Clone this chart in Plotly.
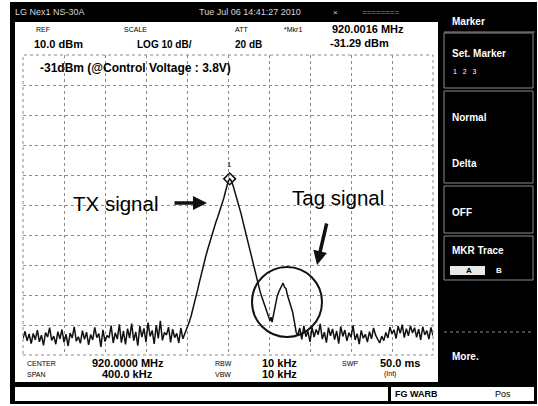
import plotly.graph_objects as go

# sweep: centre 920 MHz, span 400 kHz, values read as kHz offset from centre
center_mhz = 920.0
span_khz = 400

noise_left_start, noise_left_step = -200, 2
noise_left_dbm = [
    -84.5, -82.1, -85.3, -83.0, -86.2, -82.8, -84.9, -81.7, -85.6, -83.4,
    -86.8, -82.5, -84.0, -80.9, -85.1, -83.7, -86.4, -82.2, -84.6, -81.5,
    -85.8, -83.1, -87.0, -82.7, -84.3, -80.6, -85.4, -83.9, -86.1, -81.9,
    -84.8, -82.4, -86.6, -83.2, -85.0, -80.8, -84.2, -82.9, -87.3, -81.6,
    -85.5, -83.6, -84.1, -80.2, -86.0, -82.6, -84.7, -79.8, -85.9, -82.0,
    -86.5, -81.2, -84.4, -79.5, -85.2, -82.3, -86.9, -80.4, -84.0, -81.1,
    -85.7, -79.2, -83.8, -81.8, -86.3, -80.0, -84.5, -78.6, -85.1, -82.5,
    -83.3, -80.7, -85.8, -81.4, -84.2, -82.8, -86.0, -81.0, -84.6, -83.0,
]

signal_khz = [
    -40, -38, -36, -34, -32, -30, -28, -26, -24, -22, -20, -18, -16, -14, -12,
    -10, -8, -6, -4, -2, 0, 1.6, 3, 5, 7, 9, 11, 13, 15, 17, 19, 21, 23, 25,
    27, 29, 31, 33, 35, 37, 39, 40, 41, 42, 43, 44, 46, 48, 50, 52, 53.7, 55,
    56.6, 58, 59.5, 61, 63, 65, 66.5,
]
signal_dbm = [
    -80.8, -79.2, -77.0, -74.5, -71.6, -68.8, -65.9, -62.8, -60.2, -57.5,
    -55.0, -52.6, -50.2, -48.0, -45.9, -44.0, -42.0, -40.0, -37.6, -34.9,
    -32.3, -31.29, -31.8, -33.6, -35.9, -38.2, -40.4, -43.2, -46.1, -48.9,
    -52.0, -55.2, -58.0, -60.8, -63.5, -66.0, -68.4, -70.7, -72.9, -75.0,
    -77.0, -77.6, -78.6, -77.4, -79.0, -77.1, -73.2, -70.4, -68.6, -66.9,
    -66.0, -67.3, -67.9, -70.1, -71.8, -73.2, -75.6, -79.4, -82.4,
]

noise_right_start, noise_right_step = 68, 2
noise_right_dbm = [
    -83.5, -81.0, -84.8, -80.3, -83.9, -82.1, -85.6, -80.8, -84.0, -81.5,
    -83.2, -79.6, -84.7, -82.4, -85.9, -80.9, -83.6, -81.3, -84.9, -82.0,
    -86.2, -80.5, -83.8, -81.7, -85.3, -82.6, -84.1, -80.1, -85.0, -82.9,
    -86.4, -81.8, -84.4, -83.1, -85.7, -82.2, -84.6, -81.0, -83.4, -84.8,
    -86.0, -83.7, -85.2, -82.5, -84.3, -80.7, -83.0, -81.6, -84.5, -80.4,
    -82.8, -79.9, -84.2, -81.2, -83.6, -80.2, -82.7, -80.9, -84.1, -81.4,
    -85.0, -80.6, -83.3, -81.9, -84.7, -80.8, -83.5,
]

marker_mhz = 920.0016
marker_dbm = -31.29

# build the sweep
left_khz = [noise_left_start + i * noise_left_step for i in range(len(noise_left_dbm))]
right_khz = [noise_right_start + i * noise_right_step for i in range(len(noise_right_dbm))]
all_khz = left_khz + signal_khz + right_khz
freq_mhz = [center_mhz + k / 1000 for k in all_khz]
level_dbm = noise_left_dbm + signal_dbm + noise_right_dbm

# pixel helpers (plot area is 23..433 x 55..355)
L, R, T, B = 23, 433, 55, 355


def px(x):
    return (x - L) / (R - L)


def py(y):
    return (B - y) / (B - T)


def khz_of(x):
    return center_mhz + (x - (L + R) / 2) * span_khz / (R - L) / 1000


def dbm_of(y):
    return 10 - (y - T) / 3


fig = go.Figure()
fig.add_trace(go.Scatter(x=freq_mhz, y=level_dbm, mode='lines',
                         line=dict(color='#111', width=1.5), hoverinfo='skip'))
fig.add_trace(go.Scatter(x=[marker_mhz], y=[marker_dbm], mode='markers',
                         marker=dict(symbol='diamond-open', size=9, color='#111',
                                     line=dict(width=1.5)), hoverinfo='skip'))


def rect(x0, y0, x1, y1, fill=None, line='black', width=0, dash=None, layer='below'):
    return dict(type='rect', xref='paper', yref='paper', x0=px(x0), x1=px(x1), y0=py(y1), y1=py(y0),
                fillcolor=fill, line=dict(color=line, width=width, dash=dash), layer=layer)


def hline(x0, x1, y, color='#8c8c8c', width=1, dash=None):
    return dict(type='line', xref='paper', yref='paper', x0=px(x0), x1=px(x1), y0=py(y), y1=py(y),
                line=dict(color=color, width=width, dash=dash), layer='above')


shapes = [
    rect(10, 2, 537, 404, fill='black'),
    rect(15, 22, 438, 382, fill='white'),
    rect(15, 387, 388, 401, fill='white'),
    rect(391, 387, 534, 401, fill='white'),
    rect(L, T, R, B, line='#8a8a8a', width=1, dash='dot', layer='above'),
    hline(444, 535, 32),
    rect(444, 33, 533, 88, line='#8c8c8c', width=1, layer='above'),
    rect(444, 91, 533, 183, line='#8c8c8c', width=1, layer='above'),
    rect(444, 186, 533, 233, line='#8c8c8c', width=1, layer='above'),
    rect(444, 236, 533, 280, line='#8c8c8c', width=1, layer='above'),
    hline(444, 533, 332, dash='dot'),
    rect(450, 266, 485, 275, fill='#e8e8e8', layer='above'),
    # circle round the tag signal
    dict(type='circle', xref='x', yref='y', x0=khz_of(252), x1=khz_of(322),
         y0=dbm_of(337), y1=dbm_of(267), line=dict(color='#111', width=2)),
]

FONT = 'Liberation Sans'


def label(text, x, y, size=9, color='black', bold=False, anchor='left'):
    return dict(text=f'<b>{text}</b>' if bold else text, x=px(x), y=py(y),
                xref='paper', yref='paper', xanchor=anchor, yanchor='middle',
                showarrow=False, font=dict(size=size, color=color, family=FONT))


grey = '#d6d6d6'
annotations = [
    # title bar
    label('LG Nex1 NS-30A', 13, 12, 9, grey),
    label('Tue Jul 06 14:41:27 2010', 197, 12, 9, grey),
    label('×', 331, 12, 8, grey),
    label('========', 360, 12, 8, '#9a9a9a'),
    # header
    label('REF', 43, 29, 7, anchor='center'),
    label('SCALE', 135, 29, 7, anchor='center'),
    label('ATT', 241, 29, 7, anchor='center'),
    label('*Mkr1', 293, 29, 7, anchor='center'),
    label('10.0 dBm', 32, 44, 11, bold=True),
    label('LOG 10 dB/', 135, 44, 10, bold=True),
    label('20 dB', 233, 44, 10, bold=True),
    label('920.0016 MHz', 406, 29, 11, bold=True, anchor='right'),
    label('-31.29 dBm', 391, 43, 11, bold=True, anchor='right'),
    label('-31dBm (@Control Voltage : 3.8V)', 38, 68, 12, bold=True),
    # footer
    label('CENTER', 25, 363, 7),
    label('SPAN', 25, 374, 7),
    label('920.0000 MHz', 90, 363, 11, bold=True),
    label('400.0 kHz', 100, 374, 11, bold=True),
    label('RBW', 213, 363, 7),
    label('VBW', 213, 374, 7),
    label('10 kHz', 260, 363, 11, bold=True),
    label('10 kHz', 260, 374, 11, bold=True),
    label('SWP', 340, 363, 7),
    label('50.0 ms', 378, 363, 11, bold=True),
    label('(Int)', 382, 374, 7),
    label('FG WARB', 393, 394, 9, bold=True),
    label('Pos', 493, 394, 9),
    # soft-key panel
    label('Marker', 450, 21, 10, 'white', bold=True),
    label('Set. Marker', 450, 53, 10, 'white', bold=True),
    label('1   2   3', 451, 71, 7, 'white'),
    label('Normal', 450, 117, 10, 'white', bold=True),
    label('Delta', 450, 163, 10, 'white', bold=True),
    label('OFF', 450, 213, 10, 'white', bold=True),
    label('MKR Trace', 450, 250, 10, 'white', bold=True),
    label('A', 464, 270, 8, 'black', bold=True),
    label('B', 494, 270, 8, 'white', bold=True),
    label('More.', 450, 356, 10, 'white', bold=True),
    # call-outs
    label('TX signal', 71, 203, 20.5),
    label('Tag signal', 290, 197, 20.5),
    dict(x=marker_mhz, y=marker_dbm, xref='x', yref='y', text='1', showarrow=False,
         yshift=14, font=dict(size=8, color='#111', family=FONT)),
    dict(x=khz_of(207), y=dbm_of(203), xref='x', yref='y', text='', showarrow=True,
         ax=-34, ay=0, arrowhead=2, arrowsize=0.8, arrowwidth=3.5, arrowcolor='#111'),
    dict(x=khz_of(317), y=dbm_of(265), xref='x', yref='y', text='', showarrow=True,
         ax=10, ay=-43, arrowhead=2, arrowsize=0.8, arrowwidth=3.5, arrowcolor='#111'),
]

fig.update_layout(
    width=538, height=406,
    margin=dict(l=L, r=538 - R, t=T, b=406 - B),
    paper_bgcolor='white', plot_bgcolor='rgba(0,0,0,0)',
    showlegend=False,
    shapes=shapes, annotations=annotations,
)
fig.update_xaxes(range=[center_mhz - span_khz / 2000, center_mhz + span_khz / 2000],
                 tick0=center_mhz - span_khz / 2000, dtick=span_khz / 10000,
                 showgrid=True, gridcolor='#8a8a8a', griddash='dot', gridwidth=1,
                 showticklabels=False, zeroline=False, ticks='')
fig.update_yaxes(range=[-90, 10], tick0=-90, dtick=10,
                 showgrid=True, gridcolor='#8a8a8a', griddash='dot', gridwidth=1,
                 showticklabels=False, zeroline=False, ticks='')

# the page's default body margin would push the 538x406 screen off its window
fig.write_html("out.html", config={'displayModeBar': False},
               post_script="document.body.style.margin='0';document.body.style.overflow='hidden';")
